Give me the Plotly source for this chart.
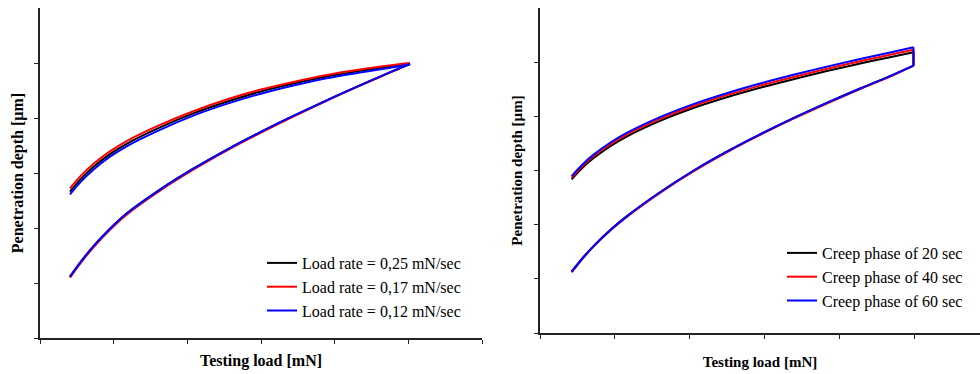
import plotly.graph_objects as go

# ---------------- data (axis units = tick intervals) ----------------
# Left panel: load rate comparison (loading branch, then return branch)
left_load_x = [0.407, 0.543, 0.724, 0.95, 1.176, 1.629, 2.081, 2.534, 2.986, 3.439, 3.891, 4.344, 4.796, 5.02]
left_load_y_025 = [1.115, 1.367, 1.666, 1.987, 2.263, 2.698, 3.078, 3.422, 3.738, 4.037, 4.322, 4.594, 4.856, 4.981]
left_load_y_017 = [1.095, 1.347, 1.646, 1.967, 2.243, 2.680, 3.060, 3.406, 3.724, 4.025, 4.313, 4.588, 4.853, 4.995]
left_load_y_012 = [1.115, 1.367, 1.666, 1.987, 2.263, 2.698, 3.078, 3.422, 3.738, 4.037, 4.322, 4.594, 4.856, 4.981]
left_unload_x = [5.02, 4.796, 4.344, 3.891, 3.439, 2.986, 2.534, 2.081, 1.629, 1.176, 0.95, 0.724, 0.543, 0.407]
left_unload_y_025 = [4.981, 4.943, 4.857, 4.753, 4.626, 4.477, 4.296, 4.083, 3.83, 3.531, 3.343, 3.11, 2.875, 2.66]
left_unload_y_017 = [4.999, 4.963, 4.882, 4.783, 4.656, 4.512, 4.336, 4.123, 3.875, 3.581, 3.393, 3.165, 2.935, 2.72]
left_unload_y_012 = [4.971, 4.923, 4.827, 4.723, 4.591, 4.437, 4.256, 4.043, 3.785, 3.486, 3.298, 3.06, 2.825, 2.61]
left_names = ["Load rate = 0,25 mN/sec", "Load rate = 0,17 mN/sec", "Load rate = 0,12 mN/sec"]

# Right panel: creep phase comparison (loading, creep hold, return branch)
right_load_x = [0.423, 0.568, 0.713, 0.936, 1.159, 1.604, 2.05, 2.496, 2.941, 3.387, 3.833, 4.278, 4.724, 4.991]
right_load_y_20 = [1.131, 1.38, 1.60, 1.897, 2.153, 2.598, 2.995, 3.347, 3.667, 3.966, 4.247, 4.514, 4.77, 4.935]
right_load_y_40 = [1.121, 1.37, 1.59, 1.887, 2.143, 2.588, 2.985, 3.337, 3.657, 3.956, 4.237, 4.505, 4.762, 4.935]
right_load_y_60 = [1.131, 1.38, 1.60, 1.897, 2.153, 2.598, 2.995, 3.347, 3.667, 3.966, 4.247, 4.514, 4.77, 4.935]
right_unload_x = [4.991, 4.724, 4.278, 3.833, 3.387, 2.941, 2.496, 2.05, 1.604, 1.159, 0.936, 0.713, 0.568, 0.423]
right_unload_y_20 = [5.185, 5.106, 4.975, 4.836, 4.686, 4.527, 4.352, 4.154, 3.916, 3.627, 3.446, 3.225, 3.05, 2.837]
right_unload_y_40 = [5.23, 5.15, 5.018, 4.878, 4.726, 4.567, 4.391, 4.191, 3.952, 3.662, 3.48, 3.258, 3.082, 2.867]
right_unload_y_60 = [5.275, 5.194, 5.060, 4.918, 4.766, 4.605, 4.427, 4.226, 3.986, 3.695, 3.512, 3.289, 3.112, 2.897]
right_names = ["Creep phase of 20 sec", "Creep phase of 40 sec", "Creep phase of 60 sec"]

colors = ["#000000", "#ff0000", "#0000ff"]
x_title = "Testing load [mN]"
y_title = "Penetration depth [µm]"

# ---------------- figure ----------------
fig = go.Figure()


def add_cycle(lx, ly, ux, uy, name, color, xa, ya, legend):
    base = dict(mode="lines", xaxis=xa, yaxis=ya, legendgroup=name + xa, legend=legend,
                hoverinfo="skip", name=name)
    # loading branch
    fig.add_trace(go.Scatter(x=lx, y=ly, showlegend=True,
                             line=dict(color=color, width=2, shape="spline", smoothing=1), **base))
    # creep hold (end of loading -> start of return branch)
    fig.add_trace(go.Scatter(x=[lx[-1], ux[0]], y=[ly[-1], uy[0]], showlegend=False,
                             line=dict(color=color, width=2), **base))
    # return branch
    fig.add_trace(go.Scatter(x=ux, y=uy, showlegend=False,
                             line=dict(color=color, width=2, shape="spline", smoothing=1), **base))


left_sets = [(left_load_y_025, left_unload_y_025), (left_load_y_017, left_unload_y_017),
             (left_load_y_012, left_unload_y_012)]
for (ly, uy), nm, c in zip(left_sets, left_names, colors):
    add_cycle(left_load_x, ly, left_unload_x, uy, nm, c, "x", "y", "legend")

right_sets = [(right_load_y_20, right_unload_y_20), (right_load_y_40, right_unload_y_40),
              (right_load_y_60, right_unload_y_60)]
for (ly, uy), nm, c in zip(right_sets, right_names, colors):
    add_cycle(right_load_x, ly, right_unload_x, uy, nm, c, "x2", "y2", "legend2")

W, H = 980, 374
axis_line = "#222222"
serif = "Liberation Serif, Times New Roman, serif"


def axis(domain, rng, ticks, title, size, standoff, anchor):
    return dict(domain=domain, range=rng, tickvals=ticks, showticklabels=False,
                ticks="outside", ticklen=4, tickwidth=1, tickcolor=axis_line,
                showline=True, linecolor=axis_line, linewidth=1.5,
                showgrid=False, zeroline=False, anchor=anchor,
                title=dict(text="<b>" + title + "</b>", font=dict(family=serif, size=size, color="#000"),
                           standoff=standoff))


fig.update_layout(
    width=W, height=H,
    margin=dict(l=0, r=0, t=0, b=0),
    paper_bgcolor="white", plot_bgcolor="white",
    font=dict(family=serif, color="#000"),
    xaxis=axis([40 / W, 482 / W], [0, 6], [0, 1, 2, 3, 4, 5, 6], x_title, 16, 12, "y"),
    yaxis=axis([(H - 338) / H, (H - 8) / H], [0, 6], [0, 1, 2, 3, 4, 5], y_title, 16, 7, "x"),
    xaxis2=axis([540 / W, 1.0], [0, 5.88], [0, 1, 2, 3, 4, 5], x_title, 15, 19, "y2"),
    yaxis2=axis([(H - 333) / H, (H - 8) / H], [0, 6], [0, 1, 2, 3, 4, 5], y_title, 15, 8, "x2"),
    legend=dict(x=262 / W, xanchor="left", y=(H - 246) / H, yanchor="top",
                bgcolor="rgba(0,0,0,0)", font=dict(family=serif, size=16, color="#000"),
                borderwidth=0, tracegroupgap=0),
    legend2=dict(x=782 / W, xanchor="left", y=(H - 236) / H, yanchor="top",
                 bgcolor="rgba(0,0,0,0)", font=dict(family=serif, size=16, color="#000"),
                 borderwidth=0, tracegroupgap=0),
    showlegend=True,
)

fig.write_html("out.html")
